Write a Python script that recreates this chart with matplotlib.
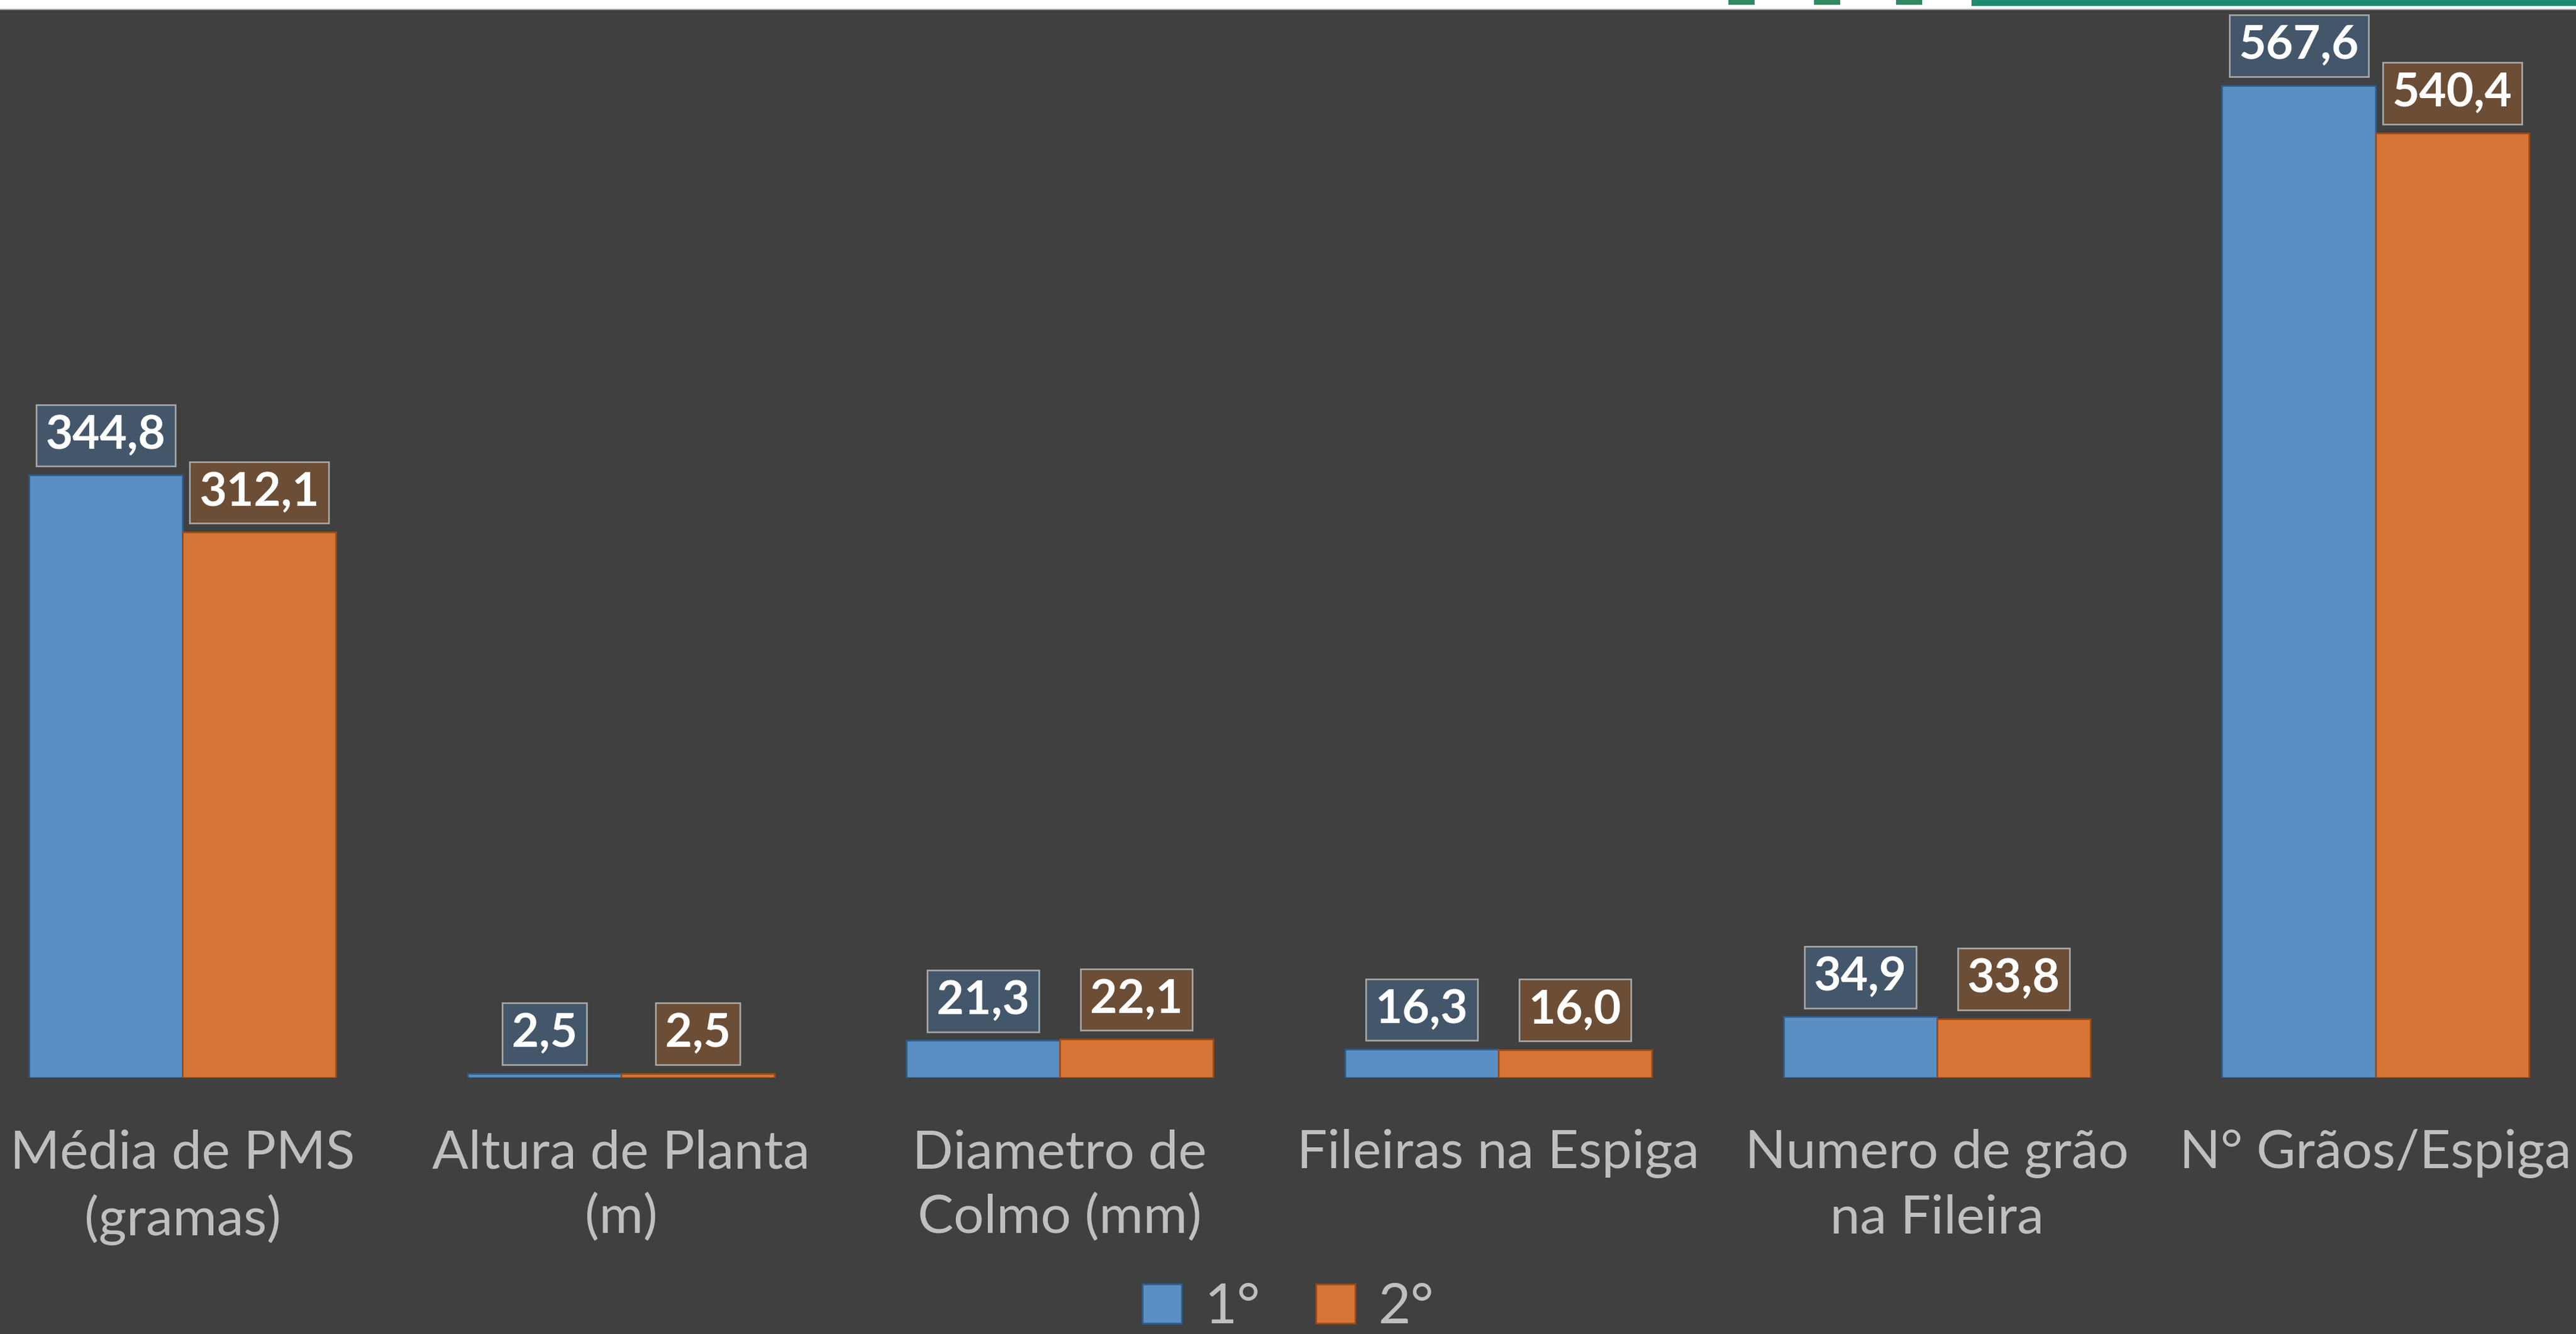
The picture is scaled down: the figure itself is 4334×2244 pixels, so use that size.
import numpy as np
import matplotlib.pyplot as plt
from matplotlib.patches import Rectangle

plt.rcParams['font.family'] = ['Lato', 'DejaVu Sans']

# dados
categorias = ['Média de PMS\n(gramas)', 'Altura de Planta\n(m)', 'Diametro de\nColmo (mm)',
              'Fileiras na Espiga', 'Numero de grão\nna Fileira', 'N° Grãos/Espiga']
serie_1 = [344.8, 2.5, 21.3, 16.3, 34.9, 567.6]
serie_2 = [312.1, 2.5, 22.1, 16.0, 33.8, 540.4]
nomes = ['1°', '2°']

fundo = '#404040'
cor_azul, borda_azul, caixa_azul = '#5A8FC3', '#2E5E8E', '#44566A'
cor_laranja, borda_laranja, caixa_laranja = '#D67535', '#9C4A16', '#6C4D36'
cor_texto = '#BFBFBF'

W, H = 4334, 2244
fig = plt.figure(figsize=(W / 100, H / 100), dpi=100, facecolor=fundo)
ax = fig.add_axes([0, 1 - 1813 / H, 1, 1813 / H])
ax.set_facecolor(fundo)

x = np.arange(len(categorias))
w = 0.35
b1 = ax.bar(x - w / 2, serie_1, w, color=cor_azul, edgecolor=borda_azul, linewidth=2, label=nomes[0])
b2 = ax.bar(x + w / 2, serie_2, w, color=cor_laranja, edgecolor=borda_laranja, linewidth=2, label=nomes[1])

ax.set_xlim(-0.416, 5.457)
ax.set_ylim(0, 616.5)

# rótulos de dados
for barras, vals, cx in [(b1, serie_1, caixa_azul), (b2, serie_2, caixa_laranja)]:
    for r, v in zip(barras, vals):
        ax.annotate(f'{v:.1f}'.replace('.', ','),
                    (r.get_x() + r.get_width() / 2, v),
                    xytext=(0, 48), textcoords='offset points',
                    ha='center', va='center', fontsize=57, fontweight='bold', color='white',
                    bbox=dict(boxstyle='square,pad=0.2', fc=cx, ec='#A6A6A6', lw=2))

ax.set_xticks(x)
ax.set_xticklabels(categorias, fontsize=65, color=cor_texto, linespacing=1.4)
ax.tick_params(axis='x', length=0, pad=62)
ax.set_yticks([])
for s in ax.spines.values():
    s.set_visible(False)

fig.legend(handles=[b1, b2], labels=nomes, loc='center', bbox_to_anchor=(0.5, 1 - 2200 / H),
           ncol=2, frameon=False, fontsize=68, labelcolor=cor_texto,
           handlelength=0.7, handleheight=0.7, handletextpad=0.4, columnspacing=1.0)

# faixa do slide no topo
fig.patches.append(Rectangle((0, 1 - 15 / H), 1, 15 / H, transform=fig.transFigure,
                             fc='white', ec='none', zorder=5))
fig.patches.append(Rectangle((0, 1 - 17 / H), 1, 2 / H, transform=fig.transFigure,
                             fc='#A0A0A0', ec='none', zorder=5))
fig.patches.append(Rectangle((3317 / W, 1 - 10 / H), 1, 10 / H, transform=fig.transFigure,
                             fc='#1F8A70', ec='none', zorder=6))
for cxp in [2930, 3074, 3212]:
    fig.patches.append(Rectangle(((cxp - 22) / W, 1 - 8 / H), 44 / W, 8 / H, transform=fig.transFigure,
                                 fc='#2E8B62', ec='none', zorder=6))

fig.savefig('out.png', dpi=100, facecolor=fundo)
